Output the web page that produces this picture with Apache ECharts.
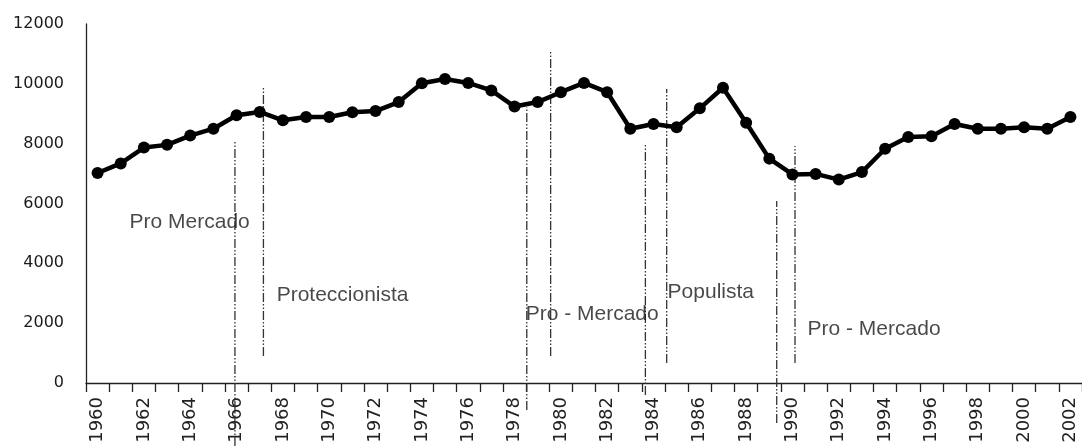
<!DOCTYPE html>
<html>
<head>
<meta charset="utf-8">
<script src="https://cdn.jsdelivr.net/npm/echarts@6/dist/echarts.min.js"></script>
<style>
  html, body { margin: 0; padding: 0; background: #fff; }
  #chart { width: 1082px; height: 446px; }
</style>
</head>
<body>
<div id="chart"></div>
<script>
'use strict';
// años y valores de la serie
const years = [];
for (let y = 1960; y <= 2002; y++) years.push(String(y));
const values = [
  7020, 7340, 7870, 7960, 8270, 8500, 8950, 9060, 8780, 8890,
  8890, 9050, 9090, 9390, 10020, 10160, 10030, 9780, 9240, 9390,
  9720, 10030, 9720, 8500, 8660, 8550, 9180, 9870, 8700, 7500,
  6970, 6990, 6800, 7050, 7830, 8220, 8250, 8660, 8500, 8500,
  8550, 8500, 8890
];
const yTicks = [0, 2000, 4000, 6000, 8000, 10000, 12000];

// líneas verticales (cambios de régimen): [año, desde, hasta]
const regimeLines = [
  [1965.93, -2106, 8123],
  [1967.16, 903, 9895],
  [1978.53, -903, 9227],
  [1979.56, 903, 11132],
  [1983.65, -401, 8023],
  [1984.57, 669, 9828],
  [1989.32, -1337, 6084],
  [1990.11, 669, 7923]
];
// etiquetas de periodos: [año, valor, texto]
const periodLabels = [
  [1961.38, 5380, 'Pro Mercado'],
  [1967.73, 2940, 'Proteccionista'],
  [1978.48, 2300, 'Pro - Mercado'],
  [1984.61, 3040, 'Populista'],
  [1990.65, 1800, 'Pro - Mercado']
];

const chart = echarts.init(document.getElementById('chart'), null, { renderer: 'canvas' });

const lineSeries = regimeLines.map(([x, y0, y1]) => ({
  type: 'line',
  xAxisIndex: 1,
  data: [[x, y0], [x, y1]],
  symbol: 'none',
  clip: false,
  silent: true,
  lineStyle: { color: '#333', width: 1.3, type: [9, 2, 1.5, 2, 1.5, 2] },
  z: 1
}));

const option = {
  animation: false,
  grid: { left: 86, right: 0, top: 24, bottom: 63 },
  xAxis: [{
    type: 'category',
    data: years,
    boundaryGap: true,
    axisLine: { lineStyle: { color: '#222', width: 1.3 } },
    axisTick: { show: true, interval: 0, length: 9, lineStyle: { color: '#222', width: 1.3 } },
    axisLabel: {
      interval: 1,
      rotate: 90,
      margin: 14,
      color: '#222',
      fontFamily: 'DejaVu Sans',
      fontSize: 18
    },
    splitLine: { show: false }
  }, {
    // eje auxiliar para las anotaciones
    type: 'value',
    min: 1959.5,
    max: 2002.5,
    show: false
  }],
  yAxis: {
    type: 'value',
    min: yTicks[0],
    max: yTicks[yTicks.length - 1],
    interval: 2000,
    axisLine: { show: true, lineStyle: { color: '#222', width: 1.3 } },
    axisTick: { show: false },
    splitLine: { show: false },
    axisLabel: {
      margin: 22,
      color: '#1a1a1a',
      fontFamily: 'DejaVu Sans',
      fontSize: 16,
      formatter: v => String(v)
    }
  },
  series: [
    ...lineSeries,
    {
      type: 'scatter',
      xAxisIndex: 1,
      data: periodLabels.map(p => ({ value: [p[0], p[1]], name: p[2] })),
      symbolSize: 0,
      silent: true,
      label: {
        show: true,
        position: 'right',
        distance: 0,
        formatter: '{b}',
        color: '#1a1a1a',
        fontFamily: 'Liberation Sans, Arial, sans-serif',
        fontSize: 21
      },
      z: 3
    },
    {
      type: 'line',
      data: values,
      symbol: 'circle',
      symbolSize: 12,
      itemStyle: { color: '#000' },
      lineStyle: { color: '#000', width: 4.5 },
      z: 5
    }
  ]
};

chart.setOption(option);
</script>
</body>
</html>
